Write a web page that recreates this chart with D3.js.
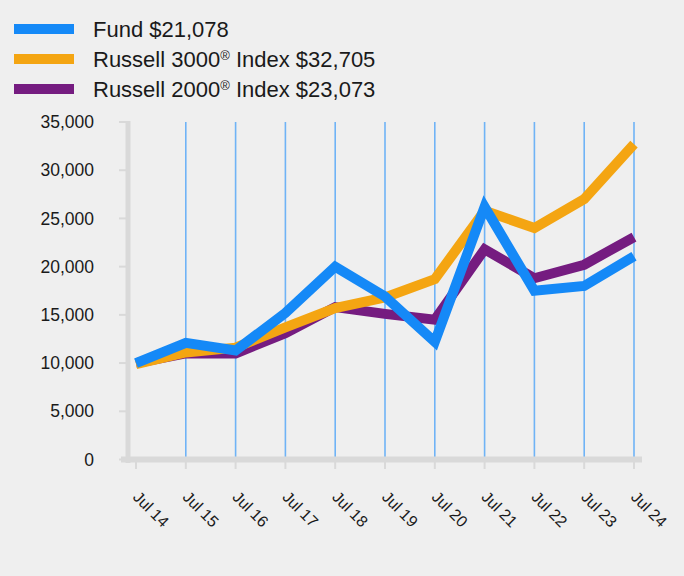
<!DOCTYPE html>
<html><head><meta charset="utf-8">
<script src="https://cdn.jsdelivr.net/npm/d3@7"></script>
<style>
html,body{margin:0;padding:0;background:#efefef;}
text{font-family:"Liberation Sans",Arial,sans-serif;fill:#1a1a1a;}
</style></head>
<body>
<svg id="chart" width="684" height="576"></svg>
<script>
const categories = ["Jul 14","Jul 15","Jul 16","Jul 17","Jul 18","Jul 19","Jul 20","Jul 21","Jul 22","Jul 23","Jul 24"];
const fund     = [10000,12100,11300,15200,20000,16900,12200,26200,17500,18000,21078];
const russell3000 = [9900,11100,11600,13700,15700,16800,18700,25800,24000,27000,32705];
const russell2000 = [10000,11000,11000,13100,15800,15100,14500,21800,18800,20200,23073];
const seriesNames = ["Fund $21,078","Russell 3000® Index $32,705","Russell 2000® Index $23,073"];
const yTicks = [0,5000,10000,15000,20000,25000,30000,35000];

const colors = ["#1589f7","#f4a512","#751c80"];
const svg = d3.select("#chart");

const x = d3.scalePoint().domain(categories).range([136,634]);
const y = d3.scaleLinear().domain([0,35000]).range([459.5,122]);

// gridlines
svg.append("g").selectAll("line").data(categories.slice(1)).join("line")
  .attr("x1",d=>x(d)).attr("x2",d=>x(d)).attr("y1",y(35000)).attr("y2",y(0))
  .attr("stroke","#6fb3f6").attr("stroke-width",1.6);

// axes lines
svg.append("line").attr("x1",128).attr("x2",128).attr("y1",121).attr("y2",463)
  .attr("stroke","#d9d9d9").attr("stroke-width",5);
svg.append("line").attr("x1",121).attr("x2",642).attr("y1",y(0)).attr("y2",y(0))
  .attr("stroke","#d9d9d9").attr("stroke-width",6);

// y ticks
const yg = svg.append("g");
yg.selectAll("line").data(yTicks).join("line")
  .attr("x1",119).attr("x2",126).attr("y1",d=>y(d)).attr("y2",d=>y(d))
  .attr("stroke","#d9d9d9").attr("stroke-width",2);
yg.selectAll("text").data(yTicks).join("text")
  .attr("x",94).attr("y",d=>y(d)).attr("dy","0.35em")
  .attr("text-anchor","end").style("font-size","17.5px")
  .text(d=>d3.format(",")(d));

// x ticks
const xg = svg.append("g");
xg.selectAll("line").data(categories).join("line")
  .attr("x1",d=>x(d)).attr("x2",d=>x(d)).attr("y1",462).attr("y2",469)
  .attr("stroke","#d9d9d9").attr("stroke-width",2);
xg.selectAll("text").data(categories).join("text")
  .attr("transform",d=>`translate(${x(d)-4},${498}) rotate(45)`)
  .attr("text-anchor","start").style("font-size","16px")
  .text(d=>d);

// lines
const line = d3.line().x((d,i)=>x(categories[i])).y(d=>y(d));
const order = [[russell2000,2],[russell3000,1],[fund,0]];
order.forEach(([data,ci])=>{
  svg.append("path").datum(data).attr("d",line)
    .attr("fill","none").attr("stroke",colors[ci]).attr("stroke-width",10)
    .attr("stroke-linejoin","miter").attr("stroke-miterlimit",10);
});

// legend
const lg = svg.append("g");
const ly = [29,59,89];
seriesNames.forEach((name,i)=>{
  lg.append("line").attr("x1",14).attr("x2",74).attr("y1",ly[i]).attr("y2",ly[i])
    .attr("stroke",colors[i]).attr("stroke-width",10);
  const t = lg.append("text").attr("x",93).attr("y",ly[i]+8)
    .style("font-size","22px");
  const parts = name.split("®");
  if(parts.length>1){
    t.append("tspan").text(parts[0]);
    t.append("tspan").attr("baseline-shift","super").style("font-size","13px").text("®");
    t.append("tspan").text(parts[1]);
  } else t.text(name);
});
</script>
</body></html>
